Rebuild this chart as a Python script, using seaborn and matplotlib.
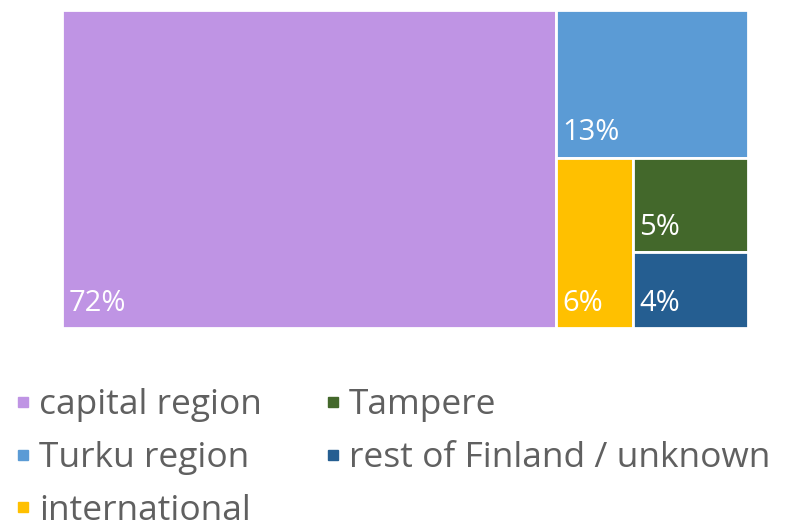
import matplotlib
matplotlib.use("Agg")
import matplotlib.pyplot as plt
from matplotlib.patches import Rectangle
from matplotlib.lines import Line2D
import seaborn as sns

categories = ["capital region", "Turku region", "international", "Tampere", "rest of Finland / unknown"]
values = [72, 13, 6, 5, 4]
labels = ["72%", "13%", "6%", "5%", "4%"]
colors = ["#BF94E4", "#5B9BD5", "#FFC000", "#43682B", "#255E91"]

sns.set_theme(style="white")
plt.rcParams['font.family'] = ['Open Sans', 'DejaVu Sans']

total = float(sum(values))
v = [x / total for x in values]

# treemap layout (slice and dice, following the reference arrangement)
rects = []
w0 = v[0]
rects.append((0, 0, w0, 1))
rest_w = 1 - w0
rest_sum = sum(v[1:])
h1 = v[1] / rest_sum
rects.append((w0, 1 - h1, rest_w, h1))
bottom_h = 1 - h1
bottom_sum = sum(v[2:])
w2 = rest_w * v[2] / bottom_sum
rects.append((w0, 0, w2, bottom_h))
w3 = rest_w - w2
sub_sum = v[3] + v[4]
h3 = bottom_h * v[3] / sub_sum
rects.append((w0 + w2, bottom_h - h3, w3, h3))
rects.append((w0 + w2, 0, w3, bottom_h - h3))

fig = plt.figure(figsize=(7.87, 5.32), dpi=100)
ax = fig.add_axes([62 / 787, 1 - 328 / 532, 686 / 787, 318 / 532])
ax.set_xlim(0, 1)
ax.set_ylim(0, 1)
ax.axis("off")

for (x, y, w, h), c, lab in zip(rects, colors, labels):
    ax.add_patch(Rectangle((x, y), w, h, facecolor=c, edgecolor="white", linewidth=2))
    ax.annotate(lab, xy=(x, y), xytext=(4.5, 7.5), textcoords="offset points",
                ha="left", va="bottom", color="white", fontsize=21)

handles = [Line2D([0], [0], marker="s", linestyle="none", markersize=7,
                  markerfacecolor=c, markeredgecolor=c) for c in colors]
leg = fig.legend(handles, categories, loc="upper left", bbox_to_anchor=(0.0, 0.297),
                 ncol=2, frameon=False, fontsize=25.5, handlelength=0.5, handletextpad=0.2,
                 columnspacing=1.75, labelspacing=0.53, borderaxespad=0)
for t in leg.get_texts():
    t.set_color("#606060")

fig.savefig("out.png", dpi=100)
